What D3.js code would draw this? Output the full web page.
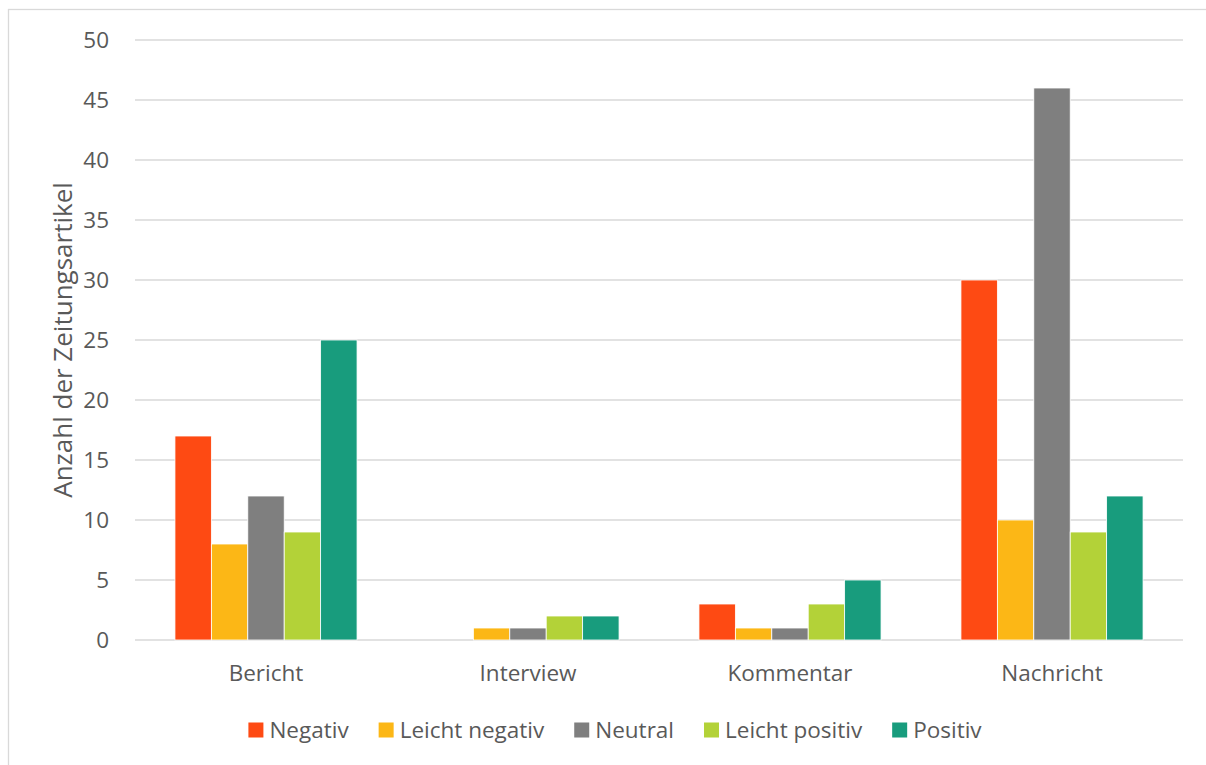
<!DOCTYPE html>
<html lang="de">
<head>
<meta charset="UTF-8">
<title>Zeitungsartikel</title>
<script src="https://cdn.jsdelivr.net/npm/d3@7"></script>
<style>
	body {
		margin: 0;
		background: #fff;
	}
	svg text {
		font-family: "Segoe UI", "Open Sans", sans-serif;
		fill: #595959;
		font-size: 22.5px;
	}
	svg text.title {
		font-size: 26px;
	}
	.grid line {
		stroke: #d9d9d9;
		stroke-width: 1.3;
	}
</style>
</head>
<body>
<div id="chart"></div>
<script>
// categories and series
var categories = ['Bericht', 'Interview', 'Kommentar', 'Nachricht'];
var seriesNames = ['Negativ', 'Leicht negativ', 'Neutral', 'Leicht positiv', 'Positiv'];
var seriesColors = ['#fe4a13', '#fcb716', '#7f7f7f', '#b3d238', '#189c7d'];

var negativ       = [17, 0, 3, 30];
var leichtNegativ = [8, 1, 1, 10];
var neutral       = [12, 1, 1, 46];
var leichtPositiv = [9, 2, 3, 9];
var positiv       = [25, 2, 5, 12];

var yTicks = [0, 5, 10, 15, 20, 25, 30, 35, 40, 45, 50];

var values = [negativ, leichtNegativ, neutral, leichtPositiv, positiv];

var W = 1206, H = 765;
var margin = {top: 40, right: 23, bottom: 125, left: 135};
var width = W - margin.left - margin.right;
var height = H - margin.top - margin.bottom;

var svg = d3.select('#chart').append('svg')
	.attr('width', W)
	.attr('height', H);

// outer frame (cropped at right and bottom)
svg.append('rect')
	.attr('x', 8.5).attr('y', 9.5)
	.attr('width', W + 20).attr('height', H + 20)
	.attr('fill', 'none')
	.attr('stroke', '#d9d9d9')
	.attr('stroke-width', 1.3);

var g = svg.append('g')
	.attr('transform', 'translate(' + margin.left + ',' + margin.top + ')');

var x0 = d3.scaleBand()
	.domain(categories)
	.range([0, width])
	.paddingInner(0)
	.paddingOuter(0);

var groupWidth = x0.bandwidth() * 0.695;
var x1 = d3.scaleBand()
	.domain(seriesNames)
	.range([0, groupWidth]);

var y = d3.scaleLinear()
	.domain([0, 50])
	.range([height, 0]);

// gridlines
g.append('g')
	.attr('class', 'grid')
	.selectAll('line')
	.data(yTicks)
	.enter().append('line')
	.attr('x1', 0)
	.attr('x2', width)
	.attr('y1', function (d) { return y(d); })
	.attr('y2', function (d) { return y(d); });

// y axis labels
var yAxis = g.append('g')
	.attr('class', 'axis')
	.call(d3.axisLeft(y).tickValues(yTicks).tickSize(0).tickPadding(26));
yAxis.select('.domain').remove();
yAxis.attr('font-family', null).attr('font-size', null);

// x axis labels
var xAxis = g.append('g')
	.attr('class', 'axis')
	.attr('transform', 'translate(0,' + height + ')')
	.call(d3.axisBottom(x0).tickSize(0).tickPadding(25));
xAxis.select('.domain').remove();
xAxis.attr('font-family', null).attr('font-size', null);

// bars
var groups = g.selectAll('.cat')
	.data(categories)
	.enter().append('g')
	.attr('class', 'cat')
	.attr('transform', function (d) {
		return 'translate(' + (x0(d) + (x0.bandwidth() - groupWidth) / 2) + ',0)';
	});

groups.selectAll('rect')
	.data(function (d, i) {
		return seriesNames.map(function (s, j) {
			return {series: s, value: values[j][i], color: seriesColors[j]};
		});
	})
	.enter().append('rect')
	.filter(function (d) { return d.value > 0; })
	.attr('x', function (d) { return x1(d.series); })
	.attr('y', function (d) { return y(d.value); })
	.attr('width', x1.bandwidth())
	.attr('height', function (d) { return height - y(d.value); })
	.attr('fill', function (d) { return d.color; })
	.attr('stroke', '#fff')
	.attr('stroke-width', 0.8);

// y axis title
svg.append('text')
	.attr('class', 'title')
	.attr('transform', 'translate(72,' + (margin.top + height / 2) + ') rotate(-90)')
	.attr('text-anchor', 'middle')
	.text('Anzahl der Zeitungsartikel');

// legend
var legend = svg.append('g').attr('class', 'legend');
var swatch = 15, swGap = 6, itemGap = 30;
var items = legend.selectAll('g')
	.data(seriesNames)
	.enter().append('g');

items.append('rect')
	.attr('width', swatch)
	.attr('height', swatch)
	.attr('y', -swatch / 2)
	.attr('fill', function (d, i) { return seriesColors[i]; });

items.append('text')
	.attr('x', swatch + swGap)
	.attr('dy', '0.35em')
	.text(function (d) { return d; });

var offsets = [], cur = 0;
items.each(function () {
	offsets.push(cur);
	cur += swatch + swGap + d3.select(this).select('text').node().getComputedTextLength() + itemGap;
});
var total = cur - itemGap;
var legendCenter = 615;
items.attr('transform', function (d, i) {
	return 'translate(' + (legendCenter - total / 2 + offsets[i]) + ',730)';
});
</script>
</body>
</html>
